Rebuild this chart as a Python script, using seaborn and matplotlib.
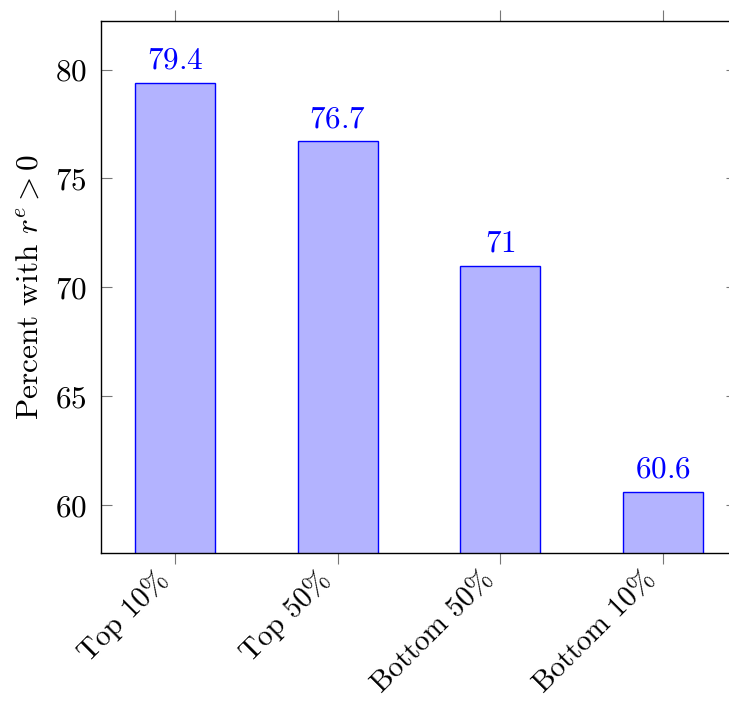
import matplotlib
matplotlib.use("Agg")
import matplotlib.pyplot as plt
import matplotlib.transforms as mtransforms
import seaborn as sns
import pandas as pd

# data
groups = ["Top 10%", "Top 50%", "Bottom 50%", "Bottom 10%"]
percents = [79.4, 76.7, 71, 60.6]
value_labels = ["79.4", "76.7", "71", "60.6"]
y_ticks = [60, 65, 70, 75, 80]

sns.set_theme(style="white")
plt.rcParams["font.family"] = ["cmr10", "DejaVu Serif"]
plt.rcParams["mathtext.fontset"] = "cm"
plt.rcParams["axes.formatter.use_mathtext"] = True
plt.rcParams["text.color"] = "black"
plt.rcParams["axes.labelcolor"] = "black"
plt.rcParams["xtick.labelcolor"] = "black"
plt.rcParams["ytick.labelcolor"] = "black"

df = pd.DataFrame({"group": groups, "percent": percents})

fig = plt.figure(figsize=(7.29, 7.04), dpi=100)
ax = fig.add_axes([100.7 / 729, 1 - 553 / 704, (737 - 100.7) / 729, (553 - 20.5) / 704])

sns.barplot(data=df, x="group", y="percent", ax=ax, width=0.49,
            color="#b3b3ff", edgecolor="blue", linewidth=1.0, saturation=1)

for i, (v, lab) in enumerate(zip(percents, value_labels)):
    ax.annotate(f"${lab}$", (i, v), xytext=(0, 6), textcoords="offset points",
                ha="center", va="bottom", color="blue", fontsize=22.5)

ax.set_xlim(-0.457, 3.455)
ax.set_ylim(57.8, 82.25)
ax.set_yticks(y_ticks)
ax.set_yticklabels([f"${t}$" for t in y_ticks], fontsize=22.5)
ax.set_xticks(range(len(groups)))
ax.set_xticklabels([])
ax.set_xlabel("")
ax.set_ylabel(r"Percent with $r^e > 0$", fontsize=22.5, labelpad=8)

# rotated category labels, placed by hand just under the ticks
base = ax.get_xaxis_transform()
shift = mtransforms.ScaledTranslation(-11 / 100, -23 / 100, fig.dpi_scale_trans)
for i, g in enumerate(groups):
    ax.text(i, 0, g, transform=base + shift, fontsize=21, rotation=45,
            ha="right", va="center", rotation_mode="anchor")

for s in ax.spines.values():
    s.set_color("black")
    s.set_linewidth(1.0)

ax.tick_params(axis="y", which="both", direction="in", length=8, width=0.8,
               color="#777777", left=True, right=True, pad=10)
ax.tick_params(axis="x", which="both", direction="out", length=8, width=0.8,
               color="#777777", bottom=True, top=True)

fig.savefig("out.png", dpi=100)
plt.close(fig)
